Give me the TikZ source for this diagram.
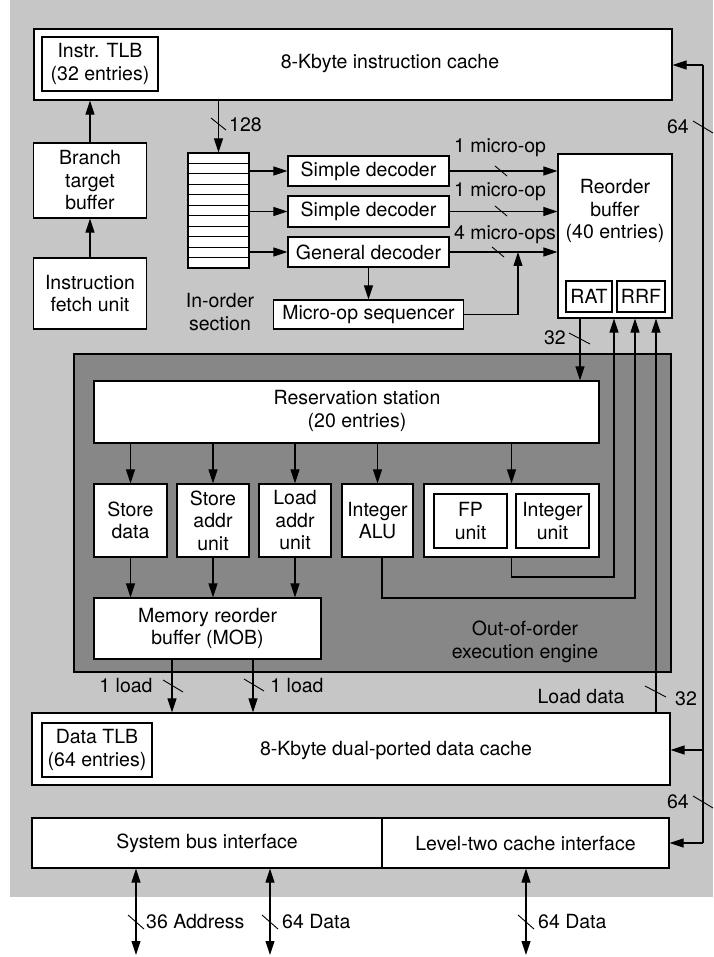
\documentclass[tikz,border=0pt]{standalone}
\usepackage{fontspec}
\setmainfont{TeX Gyre Heros}
\usetikzlibrary{arrows.meta}
\definecolor{bglight}{RGB}{198,198,198}
\definecolor{bgdark}{RGB}{135,135,135}
\begin{document}
\begin{tikzpicture}[x=1pt,y=-1pt,
  font=\fontsize{19.5}{22.5}\selectfont,
  box/.style={draw, line width=1.3pt, fill=white, inner sep=0pt, align=center},
  lbl/.style={inner sep=0pt, align=center},
  arr/.style={line width=1.1pt, -{Triangle[length=14pt,width=9pt]}},
  darr/.style={line width=1.1pt, {Triangle[length=14pt,width=9pt]}-{Triangle[length=14pt,width=9pt]}},
  conn/.style={line width=1.1pt},
  tick/.style={line width=0.9pt}]
\useasboundingbox (0,0) rectangle (713,957);
% backgrounds
\node[fill=bglight, inner sep=0pt, minimum width=703pt, minimum height=897pt] (bg) at (361.5,448.5) {};
\node[draw, line width=1.2pt, fill=bgdark, inner sep=0pt, minimum width=597pt, minimum height=318pt] (engine) at (372.5,513) {};

% instruction side
\node[box, minimum width=638pt, minimum height=71pt] (icache) at (353,64.5) {};
\node[lbl] (icachetxt) at (390,64) {8-Kbyte instruction cache};
\node[box, minimum width=116pt, minimum height=54pt] (itlb) at (100,64) {Instr. TLB\\(32 entries)};
\node[box, minimum width=113pt, minimum height=75pt] (btb) at (90,180.5) {Branch\\target\\buffer};
\node[box, minimum width=113pt, minimum height=71pt] (ifu) at (90,293.5) {Instruction\\fetch unit};

\node[box, minimum width=61pt, minimum height=115pt] (queue) at (218.5,210.5) {};
\foreach \i in {1,...,10} \draw[line width=1pt] (188,{153+\i*115/11}) -- (249,{153+\i*115/11});
\node[lbl] (inorder) at (220,312) {In-order\\section};

\node[box, minimum width=161pt, minimum height=30pt] (sd1) at (368.5,171) {Simple decoder};
\node[box, minimum width=161pt, minimum height=31pt] (sd2) at (368.5,211.5) {Simple decoder};
\node[box, minimum width=161pt, minimum height=30pt] (gd) at (368.5,252) {General decoder};
\node[box, minimum width=190pt, minimum height=29pt] (seq) at (368.5,314.5) {Micro-op sequencer};

\node[box, minimum width=114pt, minimum height=164pt] (rob) at (615,236) {};
\node[lbl] (robtxt) at (615,211) {Reorder\\buffer\\(40 entries)};
\node[box, minimum width=46pt, minimum height=31pt] (rat) at (589,296.5) {RAT};
\node[box, minimum width=48pt, minimum height=31pt] (rrf) at (641,296.5) {RRF};

% execution engine
\node[box, minimum width=505pt, minimum height=62pt] (rs) at (346.5,412) {};
\node[lbl] (rstxt) at (357,411) {Reservation station\\(20 entries)};
\node[box, minimum width=73pt, minimum height=73pt] (sdata) at (130.5,520.5) {Store\\data};
\node[box, minimum width=72pt, minimum height=73pt] (saddr) at (213,520.5) {Store\\addr\\unit};
\node[box, minimum width=72pt, minimum height=73pt] (laddr) at (295,520.5) {Load\\addr\\unit};
\node[box, minimum width=71pt, minimum height=73pt] (ialu) at (377.5,520.5) {Integer\\ALU};
\node[box, minimum width=175pt, minimum height=73pt] (fpint) at (511.5,520.5) {};
\node[box, minimum width=73pt, minimum height=54pt] (fp) at (470.5,521) {FP\\unit};
\node[box, minimum width=73pt, minimum height=54pt] (intu) at (552.5,521) {Integer\\unit};
\node[box, minimum width=227pt, minimum height=61pt] (mob) at (207.5,628.5) {Memory reorder\\buffer (MOB)};
\node[lbl] (enginetxt) at (525,642) {Out-of-order\\execution engine};

% data side
\node[box, minimum width=638pt, minimum height=72pt] (dcache) at (351,749) {};
\node[lbl] (dcachetxt) at (396,751) {8-Kbyte dual-ported data cache};
\node[box, minimum width=110pt, minimum height=54pt] (dtlb) at (97,750) {Data TLB\\(64 entries)};
\node[box, minimum width=350pt, minimum height=50pt] (sysbus) at (207,843) {System bus interface};
\node[box, minimum width=287pt, minimum height=50pt] (l2) at (525.5,843) {Level-two cache interface};

% front-end connectors
\draw[arr] (ifu.north) -- (btb.south);
\draw[arr] (btb.north) -- (btb.north |- icache.south);
\draw[arr] (queue.north |- icache.south) -- (queue.north);
\draw[tick] (211,118) -- (226,130);
\node[lbl, anchor=west] (l128) at (229,125) {128};

\draw[arr] (queue.east |- sd1) -- (sd1.west);
\draw[arr] (queue.east |- sd2) -- (sd2.west);
\draw[arr] (queue.east |- gd) -- (gd.west);
\draw[arr] (sd1.east) -- (sd1.east -| rob.west);
\draw[arr] (sd2.east) -- (sd2.east -| rob.west);
\draw[arr] (gd.east) -- (gd.east -| rob.west);
\draw[tick] (495,166) -- (507,176);
\draw[tick] (495,206) -- (507,216);
\draw[tick] (492,247) -- (504,257);
\node[lbl] (m1) at (500,148) {1 micro-op};
\node[lbl] (m2) at (500,192) {1 micro-op};
\node[lbl] (m3) at (505,235) {4 micro-ops};
\draw[arr] (gd.south) -- (gd.south |- seq.north);
\coordinate (m4) at (518,252);
\draw[arr] (seq.east) -| (m4);

% ROB <-> engine
\coordinate (c32) at (580,0);
\draw[arr] (rob.south -| c32) -- (rs.north -| c32);
\draw[tick] (569,333) -- (590,344);
\node[lbl, anchor=east] (l32a) at (566,338) {32};

\foreach \u in {sdata,saddr,laddr,ialu,fpint} \draw[arr] (rs.south -| \u.north) -- (\u.north);
\foreach \u in {sdata,saddr,laddr} \draw[arr] (\u.south) -- (\u.south |- mob.north);

\coordinate (aluo) at (382,0);
\coordinate (aluc) at (635,598);
\draw[arr] (ialu.south -| aluo) |- (aluc) -- (rob.south -| aluc);
\coordinate (intc) at (614,577);
\draw[arr] (fpint.south) |- (intc) -- (rob.south -| intc);
\coordinate (ld) at (656,0);
\draw[arr] (dcache.north -| ld) -- (rob.south -| ld);
\draw[tick] (645,686) -- (666,697);
\node[lbl] (l32b) at (686,699) {32};
\node[lbl] (loaddata) at (581,697) {Load data};

% MOB -> data cache
\coordinate (ld1) at (172,0);
\coordinate (ld2) at (253,0);
\draw[arr] (mob.south -| ld1) -- (dcache.north -| ld1);
\draw[arr] (mob.south -| ld2) -- (dcache.north -| ld2);
\draw[tick] (163,680) -- (183,692);
\draw[tick] (244,679) -- (264,691);
\node[lbl] (load1) at (126,686) {1 load};
\node[lbl] (load2) at (297,686) {1 load};

% right-hand bus
\coordinate (bustop) at (703,65);
\coordinate (busmid) at (703,750);
\coordinate (busbot) at (703,843);
\draw[conn] (bustop) -- (busbot);
\draw[arr] (bustop) -- (bustop -| icache.east);
\draw[arr] (busmid) -- (busmid -| dcache.east);
\draw[arr] (busbot) -- (busbot -| l2.east);
\draw[tick] (693,121) -- (713,133);
\node[lbl, anchor=east] (l64a) at (689,127) {64};
\draw[tick] (693,796) -- (713,808);
\node[lbl, anchor=east] (l64b) at (689,802) {64};

% external buses
\coordinate (b1) at (136,955);
\coordinate (b2) at (270,955);
\coordinate (b3) at (526,955);
\draw[darr] (sysbus.south -| b1) -- (b1);
\draw[darr] (sysbus.south -| b2) -- (b2);
\draw[darr] (l2.south -| b3) -- (b3);
\draw[tick] (128,915) -- (144,929);
\draw[tick] (262,915) -- (278,929);
\draw[tick] (518,915) -- (534,929);
\node[lbl, anchor=west] (addr36) at (146,922) {36 Address};
\node[lbl, anchor=west] (data64a) at (282,922) {64 Data};
\node[lbl, anchor=west] (data64b) at (538,922) {64 Data};
\end{tikzpicture}
\end{document}
